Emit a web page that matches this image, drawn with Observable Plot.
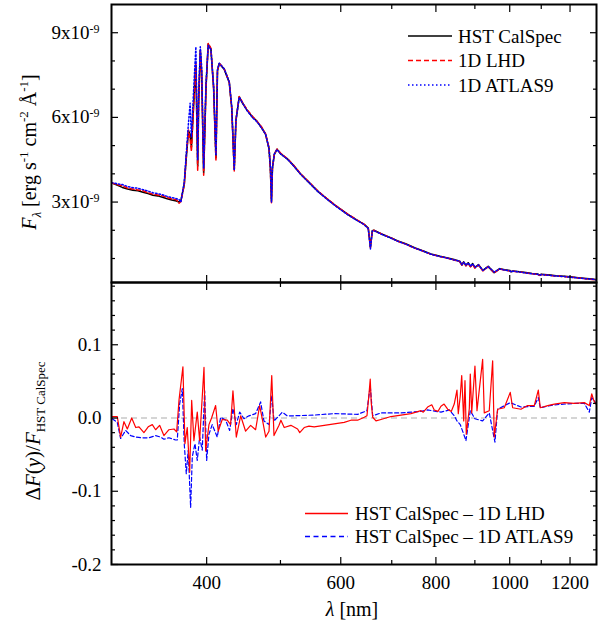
<!DOCTYPE html>
<html><head><meta charset="utf-8">
<script src="https://cdn.jsdelivr.net/npm/d3@7"></script>
<script src="https://cdn.jsdelivr.net/npm/@observablehq/plot@0.6"></script>
<style>
body{margin:0;background:#fff;}
#chart{position:relative;width:605px;height:637px;}
#chart svg{position:absolute;left:0;overflow:visible;}
</style></head><body><div id="chart"></div>
<script>
// ---------- data ----------
// Top panel: wavelength (nm) and flux in units of 1e-9 erg s^-1 cm^-2 Å^-1
const topWavelength = [300,305,310,315,320,325,330,335,340,345,
  350,355,360,365,368,370,373.8,376.4,378.6,380.5,
  382,384.6,387.2,389.3,390.4,392.4,394,396.4,399.2,401.9,
  405.2,408.5,411.4,413.3,415.5,421.8,428.3,431.5,434.8,437,
  441.4,446,452,460,466,472,478,483,485,486.6,
  488,490.8,494.8,500,511,520,532,545,560,575,
  590,613,630,644,652,656.3,660,663,680,700,
  713,730,750,770,788,810,829,845,855,860,
  865,870,876,882,888,894,900,910,922,937,
  954,970,985,1001,1005,1010,1030,1050,1070,1088,
  1094,1100,1130,1150,1179,1200,1230,1250,1282,1300];
const fluxHST = [3.68,3.60,3.52,3.46,3.42,3.40,3.35,3.30,3.24,3.22,
  3.17,3.12,3.07,3.04,3.00,3.04,3.63,4.69,5.52,5.40,
  4.95,6.47,7.83,4.28,6.47,8.38,7.60,4.04,7.06,8.60,
  8.42,7.06,4.57,7.65,7.91,7.71,7.24,6.35,4.16,5.88,
  6.73,6.50,6.25,6.00,5.85,5.65,5.40,4.90,4.20,3.04,
  4.20,4.69,4.87,4.72,4.52,4.30,3.98,3.70,3.38,3.12,
  2.88,2.56,2.36,2.21,2.08,1.40,1.98,2.00,1.86,1.72,
  1.62,1.52,1.38,1.27,1.16,1.08,1.02,0.96,0.92,0.90,
  0.77,0.88,0.75,0.85,0.72,0.82,0.68,0.78,0.58,0.72,
  0.50,0.64,0.60,0.57,0.53,0.56,0.53,0.50,0.47,0.45,
  0.41,0.44,0.41,0.39,0.37,0.35,0.32,0.30,0.27,0.25];
const fluxLHD = [3.68,3.62,3.58,3.49,3.46,3.43,3.40,3.33,3.28,3.25,
  3.22,3.16,3.11,3.08,2.96,3.02,3.60,4.72,5.55,5.20,
  4.80,6.50,7.90,4.10,6.45,8.35,7.55,3.95,7.05,8.62,
  8.45,7.05,4.45,7.65,7.92,7.72,7.25,6.32,4.10,5.90,
  6.74,6.52,6.27,6.02,5.86,5.67,5.42,4.92,4.15,2.98,
  4.18,4.70,4.88,4.74,4.53,4.31,3.99,3.71,3.39,3.13,
  2.89,2.57,2.37,2.21,2.07,1.38,1.97,2.00,1.86,1.72,
  1.61,1.51,1.37,1.26,1.15,1.07,1.01,0.95,0.91,0.89,
  0.75,0.86,0.74,0.83,0.70,0.80,0.66,0.77,0.56,0.71,
  0.49,0.63,0.59,0.56,0.52,0.55,0.52,0.49,0.46,0.44,
  0.40,0.43,0.40,0.38,0.36,0.34,0.31,0.29,0.26,0.245];
const fluxATLAS9 = [3.69,3.65,3.62,3.55,3.51,3.49,3.44,3.39,3.33,3.30,
  3.26,3.20,3.16,3.12,3.09,3.00,3.70,4.85,5.80,6.50,
  5.30,7.00,8.50,4.50,6.80,8.50,7.80,4.20,7.20,8.55,
  8.40,7.10,4.65,7.70,7.92,7.72,7.26,6.40,4.12,5.90,
  6.72,6.50,6.24,5.98,5.84,5.63,5.41,4.90,4.25,3.00,
  4.22,4.70,4.86,4.71,4.51,4.29,3.97,3.69,3.37,3.11,
  2.87,2.55,2.35,2.20,2.06,1.34,1.97,1.99,1.85,1.71,
  1.61,1.51,1.37,1.26,1.15,1.07,1.01,0.95,0.92,0.90,
  0.78,0.87,0.77,0.84,0.73,0.81,0.69,0.77,0.58,0.71,
  0.52,0.63,0.59,0.56,0.52,0.55,0.52,0.49,0.46,0.44,
  0.40,0.43,0.40,0.38,0.36,0.34,0.31,0.29,0.27,0.245];

// Bottom panel: relative differences
const resLHDWavelength = [300.6,305.3,308.4,311.5,314.7,318.9,322.8,326,330.9,335.2,
  339.4,342.8,347,351.5,356.9,362.4,365.3,367.9,372.3,374.6,
  377.2,380,382.3,384.9,388.8,391.6,396.8,398.8,402.8,406,
  411,414.2,419.3,425.7,430,433.1,437.5,443.3,450,456.9,
  463.8,469.5,474,478.2,483,487,490.3,497.8,500.7,505.7,
  516,526.6,530,537.2,545,553.7,570.7,588.2,606.3,618.7,
  631.4,644.2,649.5,654,655.9,658,660.8,667.4,677.6,698.3,
  719.8,741.9,764.6,770,780.2,790,796,805,812.3,820,
  828.9,838,845.6,852.6,856,861.1,864.9,870.1,873.5,876.9,
  885,887.6,891.4,900.2,905.8,921.4,925.9,940,949.7,954.3,
  964.1,983.6,1001.6,1008.9,1034.5,1055.6,1077,1090.3,1096.8,1121.6,
  1144.3,1179.4,1215.5,1253,1272,1281.5,1289.3,1298];
const resLHD = [0.002,0.002,-0.026,-0.005,-0.015,0.000,-0.013,-0.012,-0.020,-0.012,
  -0.009,-0.016,-0.010,-0.024,-0.016,-0.015,-0.019,0.024,0.070,-0.035,
  -0.013,-0.074,0.024,-0.031,0.008,-0.031,0.069,-0.045,-0.009,0.000,
  0.017,-0.018,-0.002,-0.003,-0.009,0.037,-0.026,0.003,-0.018,-0.010,
  -0.016,0.017,-0.005,-0.026,-0.018,0.058,-0.024,-0.010,-0.003,-0.013,
  -0.010,-0.015,-0.020,-0.013,-0.011,-0.012,-0.010,-0.008,-0.006,-0.003,
  -0.003,0.001,0.003,0.037,0.053,0.020,0.001,-0.004,-0.002,0.002,
  0.004,0.006,0.010,0.008,0.015,0.018,0.011,0.009,0.016,0.019,
  0.012,0.009,0.019,0.038,0.006,0.030,0.058,-0.004,0.051,-0.022,
  0.013,0.060,0.007,0.071,0.010,0.080,0.007,0.010,0.078,-0.026,
  0.012,0.014,0.035,0.014,0.012,0.017,0.017,0.038,0.014,0.017,
  0.019,0.021,0.020,0.021,0.017,0.033,0.024,0.019];
const resATLAS9Wavelength = [300.6,305.3,308.4,313.1,317.9,322.8,329.2,335.9,342.8,348,
  351.5,356.9,364.2,366,368.6,371.6,373.8,376.1,378.3,381.1,
  383,386.1,388.8,391.6,394.7,397.6,400,402.8,406.8,413,
  417.3,423.7,428.8,433.1,437.5,442,447.8,454.6,463.8,470.9,
  475.6,483,487,490.3,497.8,502.8,510.3,519,553.7,588.2,
  631.4,649.5,655.9,660.8,677.6,719.8,764.6,780.2,812.3,833,
  845.6,852.6,861.1,873.5,876,887.6,900.2,921.4,940,956.3,
  964.1,1001.6,1034.5,1077,1090.3,1096.8,1144.3,1215.5,1253,1272,
  1281.5,1298];
const resATLAS9 = [-0.001,-0.006,-0.028,-0.017,-0.024,-0.026,-0.027,-0.027,-0.024,-0.026,
  -0.029,-0.027,-0.030,-0.030,0.019,0.040,-0.035,-0.076,-0.044,-0.122,
  -0.053,-0.035,-0.058,-0.026,-0.044,0.037,-0.058,-0.022,-0.009,-0.026,
  0.001,-0.003,-0.017,0.013,-0.009,0.008,-0.001,0.003,0.006,0.022,
  -0.004,-0.009,0.031,-0.004,0.003,0.008,0.003,0.003,0.004,0.006,
  0.005,0.010,0.044,0.003,0.007,0.007,0.009,0.011,0.008,0.011,
  0.003,-0.004,-0.009,-0.027,-0.031,0.010,-0.001,-0.004,0.007,-0.033,
  0.012,0.021,0.015,0.016,0.028,0.014,0.018,0.020,0.020,0.008,
  0.028,0.020];

// ticks and labels
const xMajorTicks = [400,600,800,1000,1200];
const xMinorTicks = [500,700,900,1100];
const topYMajor = [3,6,9];
const topYMinor = [1,2,4,5,7,8];
const botYMajor = [-0.2,-0.1,0,0.1];
const botYMinor = [-0.18,-0.16,-0.14,-0.12,-0.08,-0.06,-0.04,-0.02,0.02,0.04,0.06,0.08,0.12,0.14,0.16,0.18];
const topLegend = ["HST CalSpec","1D LHD","1D ATLAS9"];
const botLegend = ["HST CalSpec \u2013 1D LHD","HST CalSpec \u2013 1D ATLAS9"];

// ---------- layout ----------
const serif = '"Liberation Serif","Times New Roman",Times,serif';
const W = 605, ML = 111, MR = 9;
const RED = "#ff0000", BLUE = "#0000ff";

const topData = topWavelength.map((w, i) => ({w, hst: fluxHST[i], lhd: fluxLHD[i], atl: fluxATLAS9[i]}));
const lhdData = resLHDWavelength.map((w, i) => ({w, r: resLHD[i]}));
const atlData = resATLAS9Wavelength.map((w, i) => ({w, r: resATLAS9[i]}));

function frameAndTicks(yMajor, yMinor) {
  const o = {fill: "none", stroke: "black", strokeWidth: 1.2};
  return [
    Plot.frame({stroke: "black", strokeWidth: 2}),
    Plot.axisX(xMajorTicks, {...o, anchor: "bottom", tickSize: -7}),
    Plot.axisX(xMinorTicks, {...o, anchor: "bottom", tickSize: -4}),
    Plot.axisX(xMajorTicks, {...o, anchor: "top", tickSize: -7}),
    Plot.axisX(xMinorTicks, {...o, anchor: "top", tickSize: -4}),
    Plot.axisY(yMajor, {...o, anchor: "left", tickSize: -7}),
    Plot.axisY(yMinor, {...o, anchor: "left", tickSize: -4}),
    Plot.axisY(yMajor, {...o, anchor: "right", tickSize: -7}),
    Plot.axisY(yMinor, {...o, anchor: "right", tickSize: -4})
  ];
}

const topPlot = Plot.plot({
  width: W, height: 284,
  marginLeft: ML, marginRight: MR, marginTop: 4, marginBottom: 2,
  style: {background: "transparent", fontFamily: serif, fontSize: "19px", color: "black"},
  x: {type: "log", domain: [300, 1300], label: null},
  y: {domain: [0.15, 10], label: null},
  marks: [
    Plot.line(topData, {x: "w", y: "hst", stroke: "black", strokeWidth: 1.6, clip: true}),
    Plot.line(topData, {x: "w", y: "lhd", stroke: RED, strokeWidth: 1.5, strokeDasharray: "4,2.5", clip: true}),
    Plot.line(topData, {x: "w", y: "atl", stroke: BLUE, strokeWidth: 1.5, strokeDasharray: "1.5,2", clip: true}),
    ...frameAndTicks(topYMajor, topYMinor),
    Plot.axisY(topYMajor, {anchor: "left", tickSize: 0, tickPadding: 12, tickFormat: d => d + "x10", fontSize: 19, fontFamily: serif, fill: "black"})
  ]
});
topPlot.style.top = "0px";

const botPlot = Plot.plot({
  width: W, height: 357,
  marginLeft: ML, marginRight: MR, marginTop: 2, marginBottom: 73,
  style: {background: "transparent", fontFamily: serif, fontSize: "19px", color: "black"},
  x: {type: "log", domain: [300, 1300], label: null},
  y: {domain: [-0.2, 0.185], label: null},
  marks: [
    Plot.ruleY([0], {stroke: "#c8c8c8", strokeWidth: 1.3, strokeDasharray: "6,4"}),
    Plot.line(atlData, {x: "w", y: "r", stroke: BLUE, strokeWidth: 1.2, strokeDasharray: "4,2.5", clip: true}),
    Plot.line(lhdData, {x: "w", y: "r", stroke: RED, strokeWidth: 1.2, clip: true}),
    ...frameAndTicks(botYMajor, botYMinor),
    Plot.axisY(botYMajor, {anchor: "left", tickSize: 0, tickPadding: 10, tickFormat: d => d.toFixed(1), fontSize: 19, fontFamily: serif, fill: "black"}),
    Plot.text(xMajorTicks, {x: d => d, frameAnchor: "bottom", dy: 18, text: d => String(d), fontSize: 19, fontFamily: serif, fill: "black", lineAnchor: "middle"})
  ]
});
botPlot.style.top = "280px";

const chart = document.getElementById("chart");
chart.appendChild(topPlot);
chart.appendChild(botPlot);

// superscript exponent on top tick labels
d3.select(topPlot).selectAll('g[aria-label="y-axis tick label"] text').each(function() {
  d3.select(this).append("tspan").attr("dy", "-0.5em").attr("font-size", 12).text("-9");
});

// ---------- overlay: titles & legends ----------
const ov = d3.select(chart).append("svg")
  .attr("width", W).attr("height", 637)
  .style("top", "0px")
  .attr("font-family", serif).attr("fill", "black");

// top y title
const t1 = ov.append("text").attr("transform", "translate(36,152) rotate(-90)")
  .attr("text-anchor", "middle").attr("font-size", 20);
t1.append("tspan").attr("font-style", "italic").text("F");
t1.append("tspan").attr("font-style", "italic").attr("font-size", 13).attr("dy", 5).text("\u03bb");
t1.append("tspan").attr("dy", -5).text(" [erg s");
t1.append("tspan").attr("font-size", 13).attr("dy", -8).text("-1");
t1.append("tspan").attr("dy", 8).text(" cm");
t1.append("tspan").attr("font-size", 13).attr("dy", -8).text("-2");
t1.append("tspan").attr("dy", 8).text(" \u00c5");
t1.append("tspan").attr("font-size", 13).attr("dy", -8).text("-1");
t1.append("tspan").attr("dy", 8).text("]");

// bottom y title
const t2 = ov.append("text").attr("transform", "translate(40,431) rotate(-90)")
  .attr("text-anchor", "middle").attr("font-size", 21);
t2.append("tspan").text("\u0394");
t2.append("tspan").attr("font-style", "italic").text("F");
t2.append("tspan").text("(");
t2.append("tspan").attr("font-style", "italic").text("y");
t2.append("tspan").text(")/");
t2.append("tspan").attr("font-style", "italic").text("F");
t2.append("tspan").attr("font-size", 13).attr("dy", 5).text("HST CalSpec");

// x title
const t3 = ov.append("text").attr("x", 352).attr("y", 616).attr("text-anchor", "middle").attr("font-size", 20);
t3.append("tspan").attr("font-style", "italic").text("\u03bb");
t3.append("tspan").text(" [nm]");

// legends
const topStyles = [{s: "black", d: null, w: 1.6}, {s: RED, d: "5,3", w: 1.5}, {s: BLUE, d: "1.5,2.5", w: 1.5}];
topLegend.forEach((lab, i) => {
  const y = 36 + i * 24.5;
  ov.append("line").attr("x1", 408).attr("x2", 452).attr("y1", y).attr("y2", y)
    .attr("stroke", topStyles[i].s).attr("stroke-width", topStyles[i].w)
    .attr("stroke-dasharray", topStyles[i].d);
  ov.append("text").attr("x", 458).attr("y", y + 6.5).attr("font-size", 19).text(lab);
});
const botStyles = [{s: RED, d: null}, {s: BLUE, d: "5,3.5"}];
botLegend.forEach((lab, i) => {
  const y = 513.5 + i * 23;
  ov.append("line").attr("x1", 305).attr("x2", 348).attr("y1", y).attr("y2", y)
    .attr("stroke", botStyles[i].s).attr("stroke-width", 1.3)
    .attr("stroke-dasharray", botStyles[i].d);
  ov.append("text").attr("x", 355).attr("y", y + 6.5).attr("font-size", 19).text(lab);
});
</script>
</body></html>
